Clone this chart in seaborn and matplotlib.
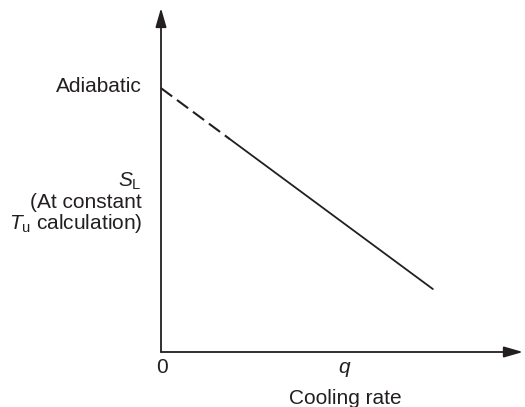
import matplotlib
matplotlib.use("Agg")
import matplotlib.pyplot as plt
import seaborn as sns
import pandas as pd

# Data (axis fractions of the schematic)
dashed_q = [0.0, 0.19]
dashed_sl = [0.767, 0.619]
solid_q = [0.19, 0.751]
solid_sl = [0.619, 0.183]
x_tick_labels = ["0", "q"]
x_tick_pos = [0.0, 0.505]

sns.set_theme(style="white")
plt.rcParams['font.family'] = ['Liberation Sans', 'DejaVu Sans']
plt.rcParams['mathtext.fontset'] = 'custom'
plt.rcParams['mathtext.rm'] = 'Liberation Sans'
plt.rcParams['mathtext.it'] = 'Liberation Sans:italic'
plt.rcParams['lines.scale_dashes'] = False

W, H = 525, 407
fig = plt.figure(figsize=(W / 100, H / 100), dpi=100)
x0, x1, y0, y1 = 161, 523, 352, 8
ax = fig.add_axes([x0 / W, 1 - y0 / H, (x1 - x0) / W, (y0 - y1) / H])
ax.set_xlim(0, 1)
ax.set_ylim(0, 1)
ax.axis('off')

txt = '#231f20'
df_d = pd.DataFrame({'q': dashed_q, 'sl': dashed_sl})
df_s = pd.DataFrame({'q': solid_q, 'sl': solid_sl})
sns.lineplot(data=df_d, x='q', y='sl', ax=ax, color='#231f20', linewidth=1.5,
             linestyle=(0, (10, 4.3)))
sns.lineplot(data=df_s, x='q', y='sl', ax=ax, color='#231f20', linewidth=1.3)

arrow = dict(arrowstyle='-|>,head_length=1.15,head_width=0.33', color='#231f20',
             lw=1.3, shrinkA=0, shrinkB=0, mutation_scale=10)
ax.annotate('', xy=(1.0, 0), xytext=(0, 0), arrowprops=arrow, annotation_clip=False)
ax.annotate('', xy=(0, 1.0), xytext=(0, 0), arrowprops=arrow, annotation_clip=False)

fs = 15
ax.text(x_tick_pos[0] + 0.004, -0.045, x_tick_labels[0], ha='center', va='center', fontsize=fs, color=txt)
ax.text(x_tick_pos[1], -0.045, x_tick_labels[1], ha='center', va='center',
        fontsize=fs, color=txt, style='italic')
ax.text((345 - 161) / 362, -0.135, 'Cooling rate', ha='center', va='center', fontsize=fs, color=txt)

lx = (142 - 161) / 362
def yf(py):
    return (y0 - py) / (y0 - y1)
ax.text(lx, yf(86), 'Adiabatic', ha='right', va='center', fontsize=fs, color=txt)
ax.text(lx, yf(181), r'$S_\mathrm{L}$', ha='right', va='center', fontsize=fs, color=txt)
ax.text(lx, yf(202), '(At constant', ha='right', va='center', fontsize=fs, color=txt)
ax.text(lx, yf(223), r'$T_\mathrm{u}$ calculation)', ha='right', va='center', fontsize=fs, color=txt)

fig.savefig('out.png', dpi=100)
